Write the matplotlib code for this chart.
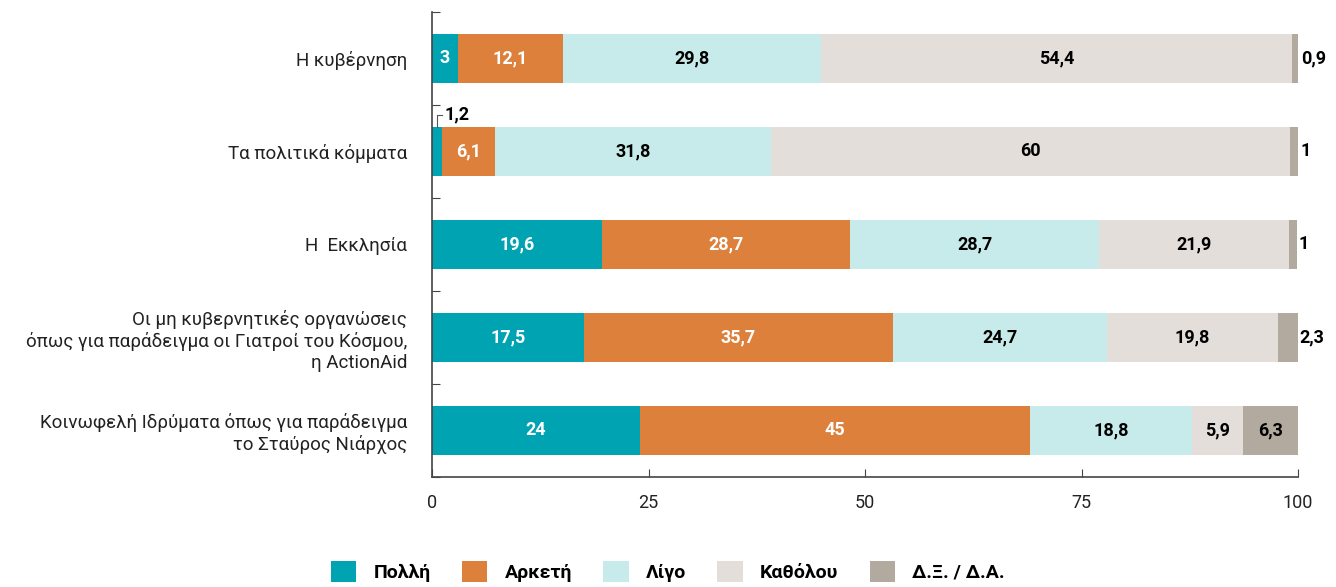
import numpy as np
import matplotlib.pyplot as plt
from matplotlib.patches import Patch

plt.rcParams['font.family'] = ['Roboto', 'DejaVu Sans']

# --- Données ---
categories = [
    "Η κυβέρνηση",
    "Τα πολιτικά κόμματα",
    "Η  Εκκλησία",
    "Οι μη κυβερνητικές οργανώσεις\nόπως για παράδειγμα οι Γιατροί του Κόσμου,\nη ActionAid",
    "Κοινωφελή Ιδρύματα όπως για παράδειγμα\nτο Σταύρος Νιάρχος",
]
series_names = ["Πολλή", "Αρκετή", "Λίγο", "Καθόλου", "Δ.Ξ. / Δ.Α."]
polli = [3, 1.2, 19.6, 17.5, 24]
arketi = [12.1, 6.1, 28.7, 35.7, 45]
ligo = [29.8, 31.8, 28.7, 24.7, 18.8]
katholou = [54.4, 60, 21.9, 19.8, 5.9]
dxda = [0.9, 1, 1, 2.3, 6.3]
x_ticks = [0, 25, 50, 75, 100]

colors = ["#00A3B1", "#DC803B", "#C6EBEA", "#E4DEDA", "#B2A99F"]
text_colors = ["white", "white", "black", "black", "black"]

series = [polli, arketi, ligo, katholou, dxda]


def fmt(v):
    s = f"{v:g}"
    return s.replace(".", ",")


fig = plt.figure(figsize=(13.36, 5.87), dpi=100)
ax = fig.add_axes([0.3234, 0.1874, 0.6482, 0.7922])

y = np.arange(len(categories))
left = np.zeros(len(categories))
for i, (name, vals) in enumerate(zip(series_names, series)):
    vals = np.array(vals, dtype=float)
    ax.barh(y, vals, left=left, height=0.53, color=colors[i], label=name)
    for j, v in enumerate(vals):
        cx = left[j] + v / 2
        if i == 4 and v < 3:
            # petite valeur en fin de barre : étiquette à droite
            ax.text(left[j] + v + 0.2, y[j], fmt(v), ha="left", va="center",
                    fontsize=13, fontweight="bold", color="black")
        elif v < 2:
            # étiquette au-dessus avec petit trait de rappel
            top = y[j] - 0.265
            ax.plot([cx, cx, cx + 0.6], [top, top - 0.13, top - 0.13],
                    color="#555555", lw=0.8)
            ax.text(cx + 0.8, top - 0.13, fmt(v), ha="left", va="center",
                    fontsize=13, fontweight="bold", color="black")
        else:
            ax.text(cx, y[j], fmt(v), ha="center", va="center",
                    fontsize=13, fontweight="bold", color=text_colors[i])
    left += vals

ax.set_ylim(len(categories) - 0.5, -0.5)
ax.set_xlim(0, 100)

# ticks aux frontières des catégories
ax.set_yticks(np.arange(-0.5, len(categories), 1.0))
ax.set_yticklabels([])
ax.set_yticks(y, minor=True)
ax.set_yticklabels(categories, minor=True, fontsize=13.5, color="#222222")
ax.tick_params(axis="y", which="minor", length=0, pad=18)
ax.tick_params(axis="y", which="major", direction="in", length=6, color="#444444")

ax.set_xticks(x_ticks)
ax.set_xticklabels([str(t) for t in x_ticks], fontsize=13, color="#222222")
ax.tick_params(axis="x", direction="in", length=6, pad=12, color="#444444")

for s in ["top", "right"]:
    ax.spines[s].set_visible(False)
for s in ["left", "bottom"]:
    ax.spines[s].set_color("#444444")
    ax.spines[s].set_linewidth(1.2)

handles = [Patch(facecolor=c, label=n) for c, n in zip(colors, series_names)]
leg = fig.legend(handles=handles, loc="center", bbox_to_anchor=(0.5, 0.027),
                 ncol=5, frameon=False, handlelength=1.3, handleheight=1.3,
                 columnspacing=1.6, handletextpad=0.9,
                 prop={"size": 14, "weight": "bold"})

fig.savefig("out.png", dpi=100)
